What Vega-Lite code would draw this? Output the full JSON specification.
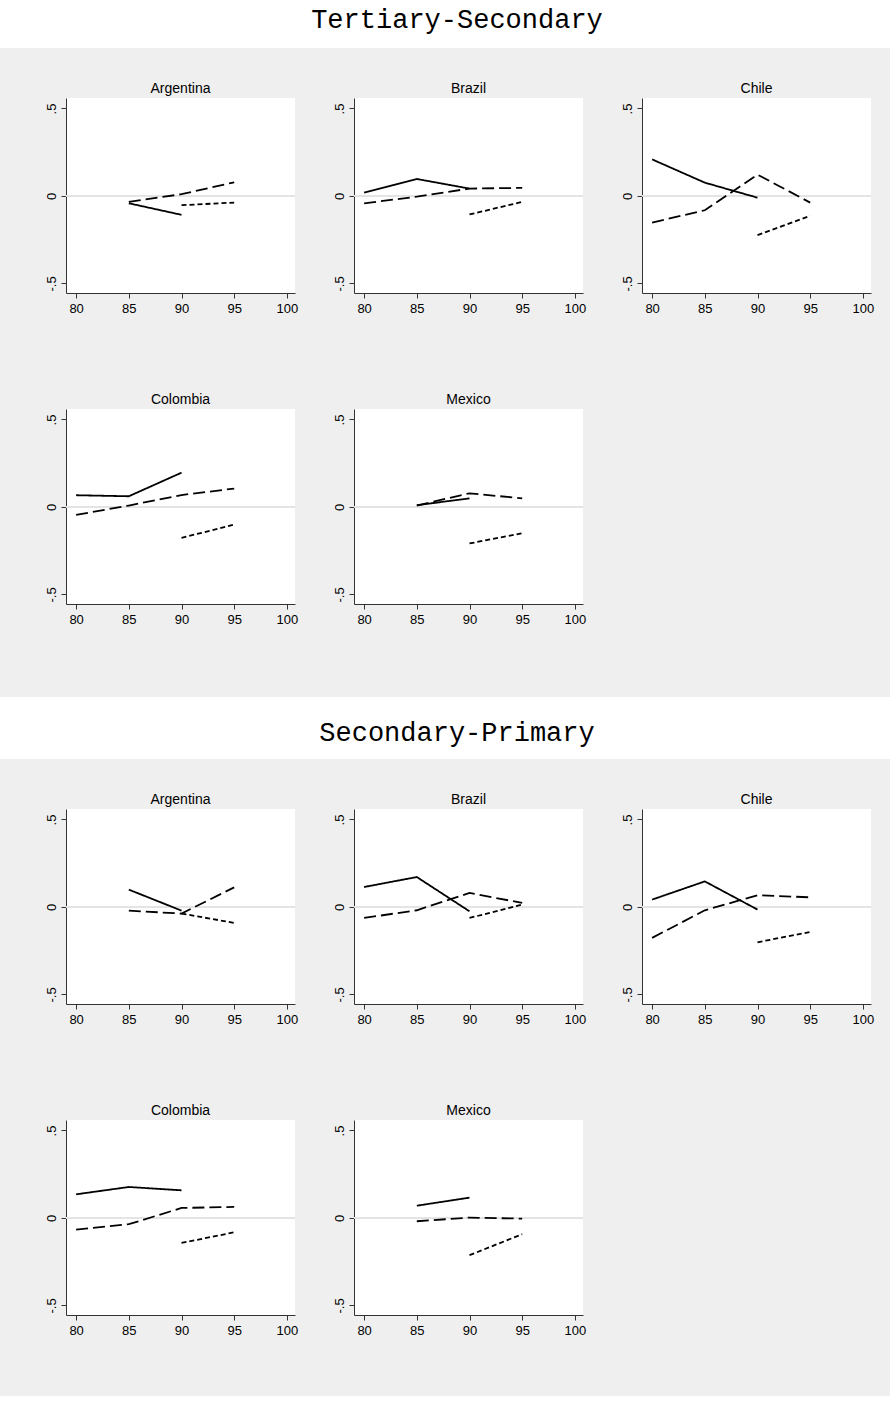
{
  "$schema": "https://vega.github.io/schema/vega-lite/v6.json",
  "background": "#efefef",
  "padding": {"left": 0, "top": 0, "right": 0, "bottom": 22},
  "spacing": 34,
  "datasets": {
    "d": [
      {"s":"TS","c":"Argentina","g":"1","x":85,"v":-0.042},
      {"s":"TS","c":"Argentina","g":"1","x":90,"v":-0.108},
      {"s":"TS","c":"Argentina","g":"2","x":85,"v":-0.034},
      {"s":"TS","c":"Argentina","g":"2","x":90,"v":0.01},
      {"s":"TS","c":"Argentina","g":"2","x":95,"v":0.078},
      {"s":"TS","c":"Argentina","g":"3","x":90,"v":-0.053},
      {"s":"TS","c":"Argentina","g":"3","x":95,"v":-0.038},
      {"s":"TS","c":"Brazil","g":"1","x":80,"v":0.019},
      {"s":"TS","c":"Brazil","g":"1","x":85,"v":0.097},
      {"s":"TS","c":"Brazil","g":"1","x":90,"v":0.042},
      {"s":"TS","c":"Brazil","g":"2","x":80,"v":-0.042},
      {"s":"TS","c":"Brazil","g":"2","x":85,"v":-0.004},
      {"s":"TS","c":"Brazil","g":"2","x":90,"v":0.042},
      {"s":"TS","c":"Brazil","g":"2","x":95,"v":0.046},
      {"s":"TS","c":"Brazil","g":"3","x":90,"v":-0.106},
      {"s":"TS","c":"Brazil","g":"3","x":95,"v":-0.034},
      {"s":"TS","c":"Chile","g":"1","x":80,"v":0.209},
      {"s":"TS","c":"Chile","g":"1","x":85,"v":0.076},
      {"s":"TS","c":"Chile","g":"1","x":90,"v":-0.01},
      {"s":"TS","c":"Chile","g":"2","x":80,"v":-0.152},
      {"s":"TS","c":"Chile","g":"2","x":85,"v":-0.082},
      {"s":"TS","c":"Chile","g":"2","x":90,"v":0.122},
      {"s":"TS","c":"Chile","g":"2","x":95,"v":-0.038},
      {"s":"TS","c":"Chile","g":"3","x":90,"v":-0.224},
      {"s":"TS","c":"Chile","g":"3","x":95,"v":-0.114},
      {"s":"TS","c":"Colombia","g":"1","x":80,"v":0.067},
      {"s":"TS","c":"Colombia","g":"1","x":85,"v":0.061},
      {"s":"TS","c":"Colombia","g":"1","x":90,"v":0.196},
      {"s":"TS","c":"Colombia","g":"2","x":80,"v":-0.046},
      {"s":"TS","c":"Colombia","g":"2","x":85,"v":0.008},
      {"s":"TS","c":"Colombia","g":"2","x":90,"v":0.068},
      {"s":"TS","c":"Colombia","g":"2","x":95,"v":0.105},
      {"s":"TS","c":"Colombia","g":"3","x":90,"v":-0.177},
      {"s":"TS","c":"Colombia","g":"3","x":95,"v":-0.101},
      {"s":"TS","c":"Mexico","g":"1","x":85,"v":0.01},
      {"s":"TS","c":"Mexico","g":"1","x":90,"v":0.049},
      {"s":"TS","c":"Mexico","g":"2","x":85,"v":0.008},
      {"s":"TS","c":"Mexico","g":"2","x":90,"v":0.078},
      {"s":"TS","c":"Mexico","g":"2","x":95,"v":0.049},
      {"s":"TS","c":"Mexico","g":"3","x":90,"v":-0.209},
      {"s":"TS","c":"Mexico","g":"3","x":95,"v":-0.15},
      {"s":"SP","c":"Argentina","g":"1","x":85,"v":0.099},
      {"s":"SP","c":"Argentina","g":"1","x":90,"v":-0.021},
      {"s":"SP","c":"Argentina","g":"2","x":85,"v":-0.021},
      {"s":"SP","c":"Argentina","g":"2","x":90,"v":-0.038},
      {"s":"SP","c":"Argentina","g":"2","x":95,"v":0.112},
      {"s":"SP","c":"Argentina","g":"3","x":90,"v":-0.038},
      {"s":"SP","c":"Argentina","g":"3","x":95,"v":-0.091},
      {"s":"SP","c":"Brazil","g":"1","x":80,"v":0.114},
      {"s":"SP","c":"Brazil","g":"1","x":85,"v":0.171},
      {"s":"SP","c":"Brazil","g":"1","x":90,"v":-0.025},
      {"s":"SP","c":"Brazil","g":"2","x":80,"v":-0.063},
      {"s":"SP","c":"Brazil","g":"2","x":85,"v":-0.019},
      {"s":"SP","c":"Brazil","g":"2","x":90,"v":0.08},
      {"s":"SP","c":"Brazil","g":"2","x":95,"v":0.023},
      {"s":"SP","c":"Brazil","g":"3","x":90,"v":-0.063},
      {"s":"SP","c":"Brazil","g":"3","x":95,"v":0.013},
      {"s":"SP","c":"Chile","g":"1","x":80,"v":0.042},
      {"s":"SP","c":"Chile","g":"1","x":85,"v":0.146},
      {"s":"SP","c":"Chile","g":"1","x":90,"v":-0.015},
      {"s":"SP","c":"Chile","g":"2","x":80,"v":-0.177},
      {"s":"SP","c":"Chile","g":"2","x":85,"v":-0.019},
      {"s":"SP","c":"Chile","g":"2","x":90,"v":0.067},
      {"s":"SP","c":"Chile","g":"2","x":95,"v":0.055},
      {"s":"SP","c":"Chile","g":"3","x":90,"v":-0.202},
      {"s":"SP","c":"Chile","g":"3","x":95,"v":-0.143},
      {"s":"SP","c":"Colombia","g":"1","x":80,"v":0.135},
      {"s":"SP","c":"Colombia","g":"1","x":85,"v":0.177},
      {"s":"SP","c":"Colombia","g":"1","x":90,"v":0.158},
      {"s":"SP","c":"Colombia","g":"2","x":80,"v":-0.067},
      {"s":"SP","c":"Colombia","g":"2","x":85,"v":-0.036},
      {"s":"SP","c":"Colombia","g":"2","x":90,"v":0.057},
      {"s":"SP","c":"Colombia","g":"2","x":95,"v":0.063},
      {"s":"SP","c":"Colombia","g":"3","x":90,"v":-0.143},
      {"s":"SP","c":"Colombia","g":"3","x":95,"v":-0.082},
      {"s":"SP","c":"Mexico","g":"1","x":85,"v":0.07},
      {"s":"SP","c":"Mexico","g":"1","x":90,"v":0.116},
      {"s":"SP","c":"Mexico","g":"2","x":85,"v":-0.019},
      {"s":"SP","c":"Mexico","g":"2","x":90,"v":0.002},
      {"s":"SP","c":"Mexico","g":"2","x":95,"v":-0.004},
      {"s":"SP","c":"Mexico","g":"3","x":90,"v":-0.213},
      {"s":"SP","c":"Mexico","g":"3","x":95,"v":-0.093}
    ]
  },
  "vconcat": [
    {
      "width": 890, "height": 48,
      "view": {"fill": "white", "stroke": null},
      "data": {"values": [{"t": "Tertiary-Secondary"}]},
      "mark": {"type": "text", "font": "Liberation Mono", "fontSize": 27, "color": "black", "baseline": "middle", "dy": -4, "dx": 12},
      "encoding": {"text": {"field": "t"}}
    },
    {
      "spacing": 44,
      "hconcat": [
        {"width": 1, "height": 1, "data": {"values": []}, "mark": "point"},
        {
          "columns": 3, "align": "each", "spacing": {"row": 78, "column": 35},
          "concat": [
            {"title": "Argentina", "width": 229, "height": 195, "view": {"fill": "white", "stroke": null},
              "layer": [
                {"data": {"values": [{"v": 0}]}, "mark": {"type": "rule", "color": "#e4e4e4", "strokeWidth": 2},
                  "encoding": {"y": {"field": "v", "type": "quantitative", "scale": {"domain": [-0.555, 0.56], "nice": false, "zero": false}, "axis": {"values": [-0.5, 0, 0.5], "title": null, "labelExpr": "datum.value == 0.5 ? '.5' : datum.value == -0.5 ? '-.5' : '0'"}}}},
                {"data": {"name": "d"}, "transform": [{"filter": "datum.s == 'TS' && datum.c == 'Argentina'"}],
                  "mark": {"type": "line", "color": "black", "strokeWidth": 1.8},
                  "encoding": {
                    "x": {"field": "x", "type": "quantitative", "scale": {"domain": [79.04, 100.77], "nice": false, "zero": false}, "axis": {"values": [80, 85, 90, 95, 100], "title": null}},
                    "y": {"field": "v", "type": "quantitative", "scale": {"domain": [-0.555, 0.56], "nice": false, "zero": false}, "axis": {"values": [-0.5, 0, 0.5], "title": null, "labelExpr": "datum.value == 0.5 ? '.5' : datum.value == -0.5 ? '-.5' : '0'"}},
                    "strokeDash": {"field": "g", "type": "nominal", "scale": {"domain": ["1", "2", "3"], "range": [[1, 0], [12, 5], [5, 3]]}, "legend": null}}}
              ]},
            {"title": "Brazil", "width": 229, "height": 195, "view": {"fill": "white", "stroke": null},
              "layer": [
                {"data": {"values": [{"v": 0}]}, "mark": {"type": "rule", "color": "#e4e4e4", "strokeWidth": 2},
                  "encoding": {"y": {"field": "v", "type": "quantitative", "scale": {"domain": [-0.555, 0.56], "nice": false, "zero": false}, "axis": {"values": [-0.5, 0, 0.5], "title": null, "labelExpr": "datum.value == 0.5 ? '.5' : datum.value == -0.5 ? '-.5' : '0'"}}}},
                {"data": {"name": "d"}, "transform": [{"filter": "datum.s == 'TS' && datum.c == 'Brazil'"}],
                  "mark": {"type": "line", "color": "black", "strokeWidth": 1.8},
                  "encoding": {
                    "x": {"field": "x", "type": "quantitative", "scale": {"domain": [79.04, 100.77], "nice": false, "zero": false}, "axis": {"values": [80, 85, 90, 95, 100], "title": null}},
                    "y": {"field": "v", "type": "quantitative", "scale": {"domain": [-0.555, 0.56], "nice": false, "zero": false}, "axis": {"values": [-0.5, 0, 0.5], "title": null, "labelExpr": "datum.value == 0.5 ? '.5' : datum.value == -0.5 ? '-.5' : '0'"}},
                    "strokeDash": {"field": "g", "type": "nominal", "scale": {"domain": ["1", "2", "3"], "range": [[1, 0], [12, 5], [5, 3]]}, "legend": null}}}
              ]},
            {"title": "Chile", "width": 229, "height": 195, "view": {"fill": "white", "stroke": null},
              "layer": [
                {"data": {"values": [{"v": 0}]}, "mark": {"type": "rule", "color": "#e4e4e4", "strokeWidth": 2},
                  "encoding": {"y": {"field": "v", "type": "quantitative", "scale": {"domain": [-0.555, 0.56], "nice": false, "zero": false}, "axis": {"values": [-0.5, 0, 0.5], "title": null, "labelExpr": "datum.value == 0.5 ? '.5' : datum.value == -0.5 ? '-.5' : '0'"}}}},
                {"data": {"name": "d"}, "transform": [{"filter": "datum.s == 'TS' && datum.c == 'Chile'"}],
                  "mark": {"type": "line", "color": "black", "strokeWidth": 1.8},
                  "encoding": {
                    "x": {"field": "x", "type": "quantitative", "scale": {"domain": [79.04, 100.77], "nice": false, "zero": false}, "axis": {"values": [80, 85, 90, 95, 100], "title": null}},
                    "y": {"field": "v", "type": "quantitative", "scale": {"domain": [-0.555, 0.56], "nice": false, "zero": false}, "axis": {"values": [-0.5, 0, 0.5], "title": null, "labelExpr": "datum.value == 0.5 ? '.5' : datum.value == -0.5 ? '-.5' : '0'"}},
                    "strokeDash": {"field": "g", "type": "nominal", "scale": {"domain": ["1", "2", "3"], "range": [[1, 0], [12, 5], [5, 3]]}, "legend": null}}}
              ]},
            {"title": "Colombia", "width": 229, "height": 195, "view": {"fill": "white", "stroke": null},
              "layer": [
                {"data": {"values": [{"v": 0}]}, "mark": {"type": "rule", "color": "#e4e4e4", "strokeWidth": 2},
                  "encoding": {"y": {"field": "v", "type": "quantitative", "scale": {"domain": [-0.555, 0.56], "nice": false, "zero": false}, "axis": {"values": [-0.5, 0, 0.5], "title": null, "labelExpr": "datum.value == 0.5 ? '.5' : datum.value == -0.5 ? '-.5' : '0'"}}}},
                {"data": {"name": "d"}, "transform": [{"filter": "datum.s == 'TS' && datum.c == 'Colombia'"}],
                  "mark": {"type": "line", "color": "black", "strokeWidth": 1.8},
                  "encoding": {
                    "x": {"field": "x", "type": "quantitative", "scale": {"domain": [79.04, 100.77], "nice": false, "zero": false}, "axis": {"values": [80, 85, 90, 95, 100], "title": " ", "titlePadding": 27, "titleFontSize": 10}},
                    "y": {"field": "v", "type": "quantitative", "scale": {"domain": [-0.555, 0.56], "nice": false, "zero": false}, "axis": {"values": [-0.5, 0, 0.5], "title": null, "labelExpr": "datum.value == 0.5 ? '.5' : datum.value == -0.5 ? '-.5' : '0'"}},
                    "strokeDash": {"field": "g", "type": "nominal", "scale": {"domain": ["1", "2", "3"], "range": [[1, 0], [12, 5], [5, 3]]}, "legend": null}}}
              ]},
            {"title": "Mexico", "width": 229, "height": 195, "view": {"fill": "white", "stroke": null},
              "layer": [
                {"data": {"values": [{"v": 0}]}, "mark": {"type": "rule", "color": "#e4e4e4", "strokeWidth": 2},
                  "encoding": {"y": {"field": "v", "type": "quantitative", "scale": {"domain": [-0.555, 0.56], "nice": false, "zero": false}, "axis": {"values": [-0.5, 0, 0.5], "title": null, "labelExpr": "datum.value == 0.5 ? '.5' : datum.value == -0.5 ? '-.5' : '0'"}}}},
                {"data": {"name": "d"}, "transform": [{"filter": "datum.s == 'TS' && datum.c == 'Mexico'"}],
                  "mark": {"type": "line", "color": "black", "strokeWidth": 1.8},
                  "encoding": {
                    "x": {"field": "x", "type": "quantitative", "scale": {"domain": [79.04, 100.77], "nice": false, "zero": false}, "axis": {"values": [80, 85, 90, 95, 100], "title": " ", "titlePadding": 27, "titleFontSize": 10}},
                    "y": {"field": "v", "type": "quantitative", "scale": {"domain": [-0.555, 0.56], "nice": false, "zero": false}, "axis": {"values": [-0.5, 0, 0.5], "title": null, "labelExpr": "datum.value == 0.5 ? '.5' : datum.value == -0.5 ? '-.5' : '0'"}},
                    "strokeDash": {"field": "g", "type": "nominal", "scale": {"domain": ["1", "2", "3"], "range": [[1, 0], [12, 5], [5, 3]]}, "legend": null}}}
              ]}
          ]
        }
      ]
    },
    {
      "width": 890, "height": 62,
      "view": {"fill": "white", "stroke": null},
      "data": {"values": [{"t": "Secondary-Primary"}]},
      "mark": {"type": "text", "font": "Liberation Mono", "fontSize": 27, "color": "black", "baseline": "middle", "dy": 5, "dx": 12},
      "encoding": {"text": {"field": "t"}}
    },
    {
      "spacing": 44,
      "hconcat": [
        {"width": 1, "height": 1, "data": {"values": []}, "mark": "point"},
        {
          "columns": 3, "align": "each", "spacing": {"row": 78, "column": 35},
          "concat": [
            {"title": "Argentina", "width": 229, "height": 195, "view": {"fill": "white", "stroke": null},
              "layer": [
                {"data": {"values": [{"v": 0}]}, "mark": {"type": "rule", "color": "#e4e4e4", "strokeWidth": 2},
                  "encoding": {"y": {"field": "v", "type": "quantitative", "scale": {"domain": [-0.555, 0.56], "nice": false, "zero": false}, "axis": {"values": [-0.5, 0, 0.5], "title": null, "labelExpr": "datum.value == 0.5 ? '.5' : datum.value == -0.5 ? '-.5' : '0'"}}}},
                {"data": {"name": "d"}, "transform": [{"filter": "datum.s == 'SP' && datum.c == 'Argentina'"}],
                  "mark": {"type": "line", "color": "black", "strokeWidth": 1.8},
                  "encoding": {
                    "x": {"field": "x", "type": "quantitative", "scale": {"domain": [79.04, 100.77], "nice": false, "zero": false}, "axis": {"values": [80, 85, 90, 95, 100], "title": null}},
                    "y": {"field": "v", "type": "quantitative", "scale": {"domain": [-0.555, 0.56], "nice": false, "zero": false}, "axis": {"values": [-0.5, 0, 0.5], "title": null, "labelExpr": "datum.value == 0.5 ? '.5' : datum.value == -0.5 ? '-.5' : '0'"}},
                    "strokeDash": {"field": "g", "type": "nominal", "scale": {"domain": ["1", "2", "3"], "range": [[1, 0], [12, 5], [5, 3]]}, "legend": null}}}
              ]},
            {"title": "Brazil", "width": 229, "height": 195, "view": {"fill": "white", "stroke": null},
              "layer": [
                {"data": {"values": [{"v": 0}]}, "mark": {"type": "rule", "color": "#e4e4e4", "strokeWidth": 2},
                  "encoding": {"y": {"field": "v", "type": "quantitative", "scale": {"domain": [-0.555, 0.56], "nice": false, "zero": false}, "axis": {"values": [-0.5, 0, 0.5], "title": null, "labelExpr": "datum.value == 0.5 ? '.5' : datum.value == -0.5 ? '-.5' : '0'"}}}},
                {"data": {"name": "d"}, "transform": [{"filter": "datum.s == 'SP' && datum.c == 'Brazil'"}],
                  "mark": {"type": "line", "color": "black", "strokeWidth": 1.8},
                  "encoding": {
                    "x": {"field": "x", "type": "quantitative", "scale": {"domain": [79.04, 100.77], "nice": false, "zero": false}, "axis": {"values": [80, 85, 90, 95, 100], "title": null}},
                    "y": {"field": "v", "type": "quantitative", "scale": {"domain": [-0.555, 0.56], "nice": false, "zero": false}, "axis": {"values": [-0.5, 0, 0.5], "title": null, "labelExpr": "datum.value == 0.5 ? '.5' : datum.value == -0.5 ? '-.5' : '0'"}},
                    "strokeDash": {"field": "g", "type": "nominal", "scale": {"domain": ["1", "2", "3"], "range": [[1, 0], [12, 5], [5, 3]]}, "legend": null}}}
              ]},
            {"title": "Chile", "width": 229, "height": 195, "view": {"fill": "white", "stroke": null},
              "layer": [
                {"data": {"values": [{"v": 0}]}, "mark": {"type": "rule", "color": "#e4e4e4", "strokeWidth": 2},
                  "encoding": {"y": {"field": "v", "type": "quantitative", "scale": {"domain": [-0.555, 0.56], "nice": false, "zero": false}, "axis": {"values": [-0.5, 0, 0.5], "title": null, "labelExpr": "datum.value == 0.5 ? '.5' : datum.value == -0.5 ? '-.5' : '0'"}}}},
                {"data": {"name": "d"}, "transform": [{"filter": "datum.s == 'SP' && datum.c == 'Chile'"}],
                  "mark": {"type": "line", "color": "black", "strokeWidth": 1.8},
                  "encoding": {
                    "x": {"field": "x", "type": "quantitative", "scale": {"domain": [79.04, 100.77], "nice": false, "zero": false}, "axis": {"values": [80, 85, 90, 95, 100], "title": null}},
                    "y": {"field": "v", "type": "quantitative", "scale": {"domain": [-0.555, 0.56], "nice": false, "zero": false}, "axis": {"values": [-0.5, 0, 0.5], "title": null, "labelExpr": "datum.value == 0.5 ? '.5' : datum.value == -0.5 ? '-.5' : '0'"}},
                    "strokeDash": {"field": "g", "type": "nominal", "scale": {"domain": ["1", "2", "3"], "range": [[1, 0], [12, 5], [5, 3]]}, "legend": null}}}
              ]},
            {"title": "Colombia", "width": 229, "height": 195, "view": {"fill": "white", "stroke": null},
              "layer": [
                {"data": {"values": [{"v": 0}]}, "mark": {"type": "rule", "color": "#e4e4e4", "strokeWidth": 2},
                  "encoding": {"y": {"field": "v", "type": "quantitative", "scale": {"domain": [-0.555, 0.56], "nice": false, "zero": false}, "axis": {"values": [-0.5, 0, 0.5], "title": null, "labelExpr": "datum.value == 0.5 ? '.5' : datum.value == -0.5 ? '-.5' : '0'"}}}},
                {"data": {"name": "d"}, "transform": [{"filter": "datum.s == 'SP' && datum.c == 'Colombia'"}],
                  "mark": {"type": "line", "color": "black", "strokeWidth": 1.8},
                  "encoding": {
                    "x": {"field": "x", "type": "quantitative", "scale": {"domain": [79.04, 100.77], "nice": false, "zero": false}, "axis": {"values": [80, 85, 90, 95, 100], "title": " ", "titlePadding": 27, "titleFontSize": 10}},
                    "y": {"field": "v", "type": "quantitative", "scale": {"domain": [-0.555, 0.56], "nice": false, "zero": false}, "axis": {"values": [-0.5, 0, 0.5], "title": null, "labelExpr": "datum.value == 0.5 ? '.5' : datum.value == -0.5 ? '-.5' : '0'"}},
                    "strokeDash": {"field": "g", "type": "nominal", "scale": {"domain": ["1", "2", "3"], "range": [[1, 0], [12, 5], [5, 3]]}, "legend": null}}}
              ]},
            {"title": "Mexico", "width": 229, "height": 195, "view": {"fill": "white", "stroke": null},
              "layer": [
                {"data": {"values": [{"v": 0}]}, "mark": {"type": "rule", "color": "#e4e4e4", "strokeWidth": 2},
                  "encoding": {"y": {"field": "v", "type": "quantitative", "scale": {"domain": [-0.555, 0.56], "nice": false, "zero": false}, "axis": {"values": [-0.5, 0, 0.5], "title": null, "labelExpr": "datum.value == 0.5 ? '.5' : datum.value == -0.5 ? '-.5' : '0'"}}}},
                {"data": {"name": "d"}, "transform": [{"filter": "datum.s == 'SP' && datum.c == 'Mexico'"}],
                  "mark": {"type": "line", "color": "black", "strokeWidth": 1.8},
                  "encoding": {
                    "x": {"field": "x", "type": "quantitative", "scale": {"domain": [79.04, 100.77], "nice": false, "zero": false}, "axis": {"values": [80, 85, 90, 95, 100], "title": " ", "titlePadding": 27, "titleFontSize": 10}},
                    "y": {"field": "v", "type": "quantitative", "scale": {"domain": [-0.555, 0.56], "nice": false, "zero": false}, "axis": {"values": [-0.5, 0, 0.5], "title": null, "labelExpr": "datum.value == 0.5 ? '.5' : datum.value == -0.5 ? '-.5' : '0'"}},
                    "strokeDash": {"field": "g", "type": "nominal", "scale": {"domain": ["1", "2", "3"], "range": [[1, 0], [12, 5], [5, 3]]}, "legend": null}}}
              ]}
          ]
        }
      ]
    }
  ],
  "config": {
    "view": {"stroke": null},
    "font": "Liberation Sans",
    "title": {"font": "Liberation Sans", "fontSize": 14, "fontWeight": "normal", "color": "black", "offset": 2},
    "axis": {"grid": false, "domainColor": "#333333", "tickColor": "#333333", "labelColor": "black", "labelFont": "Liberation Sans", "labelFontSize": 13, "tickSize": 5, "domainWidth": 1, "tickWidth": 1, "labelFlush": false, "labelOverlap": false},
    "axisX": {"labelPadding": 4},
    "axisY": {"labelAngle": -90, "labelAlign": "center", "labelBaseline": "bottom", "labelPadding": 3}
  }
}
